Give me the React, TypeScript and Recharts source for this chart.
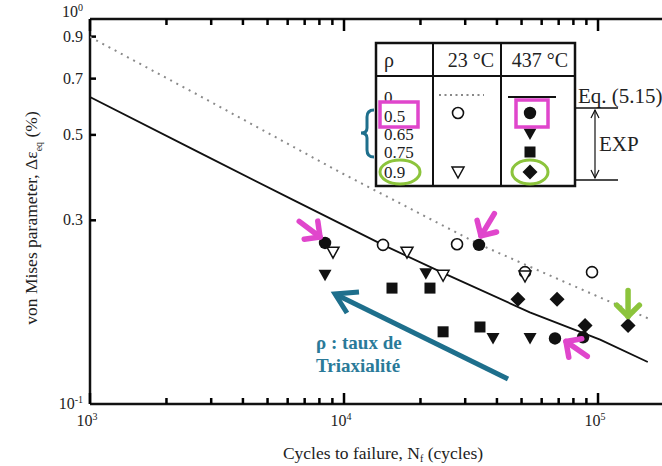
import React from "react";
import { ReferenceDot, Scatter, ScatterChart, XAxis, YAxis } from "recharts";

// cycles to failure (N) vs von Mises strain range (%)
const eqDotted23 = [
  { n: 1000, v: 0.898 },
  { n: 2710, v: 0.631 },
  { n: 9640, v: 0.4 },
  { n: 33990, v: 0.26 },
  { n: 70850, v: 0.21 },
  { n: 157000, v: 0.167 },
];
const eqSolid437 = [
  { n: 1000, v: 0.627 },
  { n: 2710, v: 0.449 },
  { n: 6300, v: 0.339 },
  { n: 14240, v: 0.259 },
  { n: 24500, v: 0.219 },
  { n: 53900, v: 0.173 },
  { n: 101900, v: 0.147 },
  { n: 157000, v: 0.1286 },
];
const open05 = [
  { n: 14240, v: 0.259 },
  { n: 27860, v: 0.26 },
  { n: 51590, v: 0.22 },
  { n: 94700, v: 0.22 },
];
const open09 = [
  { n: 9050, v: 0.248 },
  { n: 17700, v: 0.248 },
  { n: 24550, v: 0.216 },
  { n: 51590, v: 0.215 },
];
const filled05 = [
  { n: 8420, v: 0.262 },
  { n: 33990, v: 0.259 },
  { n: 67700, v: 0.148 },
  { n: 87300, v: 0.149 },
];
const filled065 = [
  { n: 8420, v: 0.216 },
  { n: 21000, v: 0.218 },
  { n: 38600, v: 0.148 },
  { n: 54000, v: 0.148 },
];
const filled075 = [
  { n: 15450, v: 0.2 },
  { n: 21800, v: 0.2 },
  { n: 24550, v: 0.154 },
  { n: 34300, v: 0.1585 },
];
const filled09 = [
  { n: 48400, v: 0.187 },
  { n: 69000, v: 0.187 },
  { n: 88900, v: 0.16 },
  { n: 131300, v: 0.16 },
];

const xTicks = [
  1000, 2000, 3000, 4000, 5000, 6000, 7000, 8000, 9000,
  10000, 20000, 30000, 40000, 50000, 60000, 70000, 80000, 90000, 100000,
];
const xMajor: Record<number, string> = { 1000: "3", 10000: "4", 100000: "5" };
const yTicks = [0.1, 0.3, 0.5, 0.7, 0.9, 1];
const yInnerTicks = [0.3, 0.5, 0.7, 0.9];
const rhoRows = ["0", "0.5", "0.65", "0.75", "0.9"];

const INK = "#111";
const PINK = "#e046cc";
const GREEN = "#8cc43c";
const TEAL = "#1e6f8c";
const SERIF = "'Liberation Serif', 'Times New Roman', 'DejaVu Serif', serif";

const OpenCircle = ({ cx, cy }: any) => (
  <circle cx={cx} cy={cy} r={5.5} fill="#fff" stroke={INK} strokeWidth={1.6} />
);
const FilledCircle = ({ cx, cy }: any) => <circle cx={cx} cy={cy} r={6.2} fill={INK} />;
const OpenTri = ({ cx, cy }: any) => (
  <polygon
    points={`${cx - 6},${cy - 5} ${cx + 6},${cy - 5} ${cx},${cy + 6}`}
    fill="#fff"
    stroke={INK}
    strokeWidth={1.5}
  />
);
const FilledTri = ({ cx, cy }: any) => (
  <polygon points={`${cx - 6.5},${cy - 5.5} ${cx + 6.5},${cy - 5.5} ${cx},${cy + 6}`} fill={INK} />
);
const FilledSquare = ({ cx, cy }: any) => (
  <rect x={cx - 5.5} y={cy - 5.5} width={11} height={11} fill={INK} />
);
const FilledDiamond = ({ cx, cy }: any) => (
  <polygon points={`${cx},${cy - 7.5} ${cx + 7.5},${cy} ${cx},${cy + 7.5} ${cx - 7.5},${cy}`} fill={INK} />
);
const NoDot = () => <g />;

// inward tick mark, anchored on an axis value
const tickMark = (dx: number, dy: number) => (p: any) => (
  <g stroke="#000" strokeWidth={2.5} fill="none">
    <polyline points={`${p.cx},${p.cy} ${p.cx + dx},${p.cy + dy}`} />
  </g>
);

const BottomTick = ({ x, y, payload }: any) => {
  const exp = xMajor[payload.value];
  if (!exp) return <g />;
  return (
    <text x={x - 3} y={y + 22} textAnchor="middle" fontSize={16} fill="#222" fontFamily={SERIF}>
      10
      <tspan dy={-6} fontSize={10}>
        {exp}
      </tspan>
    </text>
  );
};

const LeftTick = ({ x, y, payload }: any) => {
  const v = payload.value;
  const edge = v === 1 || v === 0.1;
  return (
    <text x={x - 7} y={y + (v === 1 ? -2 : 5)} textAnchor="end" fontSize={16} fill="#222" fontFamily={SERIF}>
      {edge ? (
        <>
          10
          <tspan dy={-6} fontSize={10}>
            {v === 1 ? "0" : "-1"}
          </tspan>
        </>
      ) : (
        v.toFixed(1)
      )}
    </text>
  );
};

// arrow marker drawn from a tip, pointing along (dx, dy)
const arrowShape = (color: string, ox: number, oy: number, dx: number, dy: number) => (p: any) => {
  const len = Math.hypot(dx, dy);
  const ux = dx / len;
  const uy = dy / len;
  const tx = p.cx + ox;
  const ty = p.cy + oy;
  const shaft = 26;
  const wing = 16;
  const rot = (a: number) => {
    const c = Math.cos(a);
    const s = Math.sin(a);
    return [-(ux * c - uy * s), -(ux * s + uy * c)];
  };
  const [w1x, w1y] = rot(Math.PI / 4);
  const [w2x, w2y] = rot(-Math.PI / 4);
  return (
    <g stroke={color} strokeWidth={5.5} fill="none" strokeLinecap="round" strokeLinejoin="round">
      <line x1={tx} y1={ty} x2={tx - ux * shaft} y2={ty - uy * shaft} />
      <polyline points={`${tx + w1x * wing},${ty + w1y * wing} ${tx},${ty} ${tx + w2x * wing},${ty + w2y * wing}`} />
    </g>
  );
};

const LegendTable = () => {
  const left = 376;
  const top = 43;
  const right = 575;
  const bottom = 186;
  const rowY = [97, 116, 134, 152, 172];
  return (
    <svg width={662} height={466} style={{ position: "absolute", left: 0, top: 0, pointerEvents: "none" }}>
      <rect x={left} y={top} width={right - left} height={bottom - top} fill="#fff" stroke={INK} strokeWidth={2.5} />
      <line x1={left} x2={right} y1={76} y2={76} stroke={INK} strokeWidth={2} />
      <line x1={433} x2={433} y1={top} y2={bottom} stroke={INK} strokeWidth={2} />
      <line x1={501} x2={501} y1={top} y2={bottom} stroke={INK} strokeWidth={2} />
      <g fontFamily={SERIF} fontSize={20} fill="#222">
        <text x={384} y={67}>ρ</text>
        <text x={494} y={67} textAnchor="end">23 °C</text>
        <text x={568} y={67} textAnchor="end">437 °C</text>
      </g>
      <g fontFamily={SERIF} fontSize={17} fill="#222">
        {rhoRows.map((r, i) => (
          <text key={r} x={384} y={rowY[i] + 6}>
            {r}
          </text>
        ))}
      </g>
      <line x1={439} x2={484} y1={95} y2={95} stroke="#888" strokeWidth={1.8} strokeDasharray="2 3.5" />
      <OpenCircle cx={458} cy={113} />
      <OpenTri cx={458} cy={172} />
      <line x1={508} x2={556} y1={97} y2={97} stroke={INK} strokeWidth={1.8} />
      <FilledCircle cx={530} cy={113} />
      <FilledTri cx={530} cy={134} />
      <FilledSquare cx={530} cy={152} />
      <FilledDiamond cx={530} cy={172} />
      {/* highlight marks */}
      <rect x={380} y={102} width={38} height={25} fill="none" stroke={PINK} strokeWidth={3.5} />
      <rect x={516} y={100} width={32} height={27} fill="none" stroke={PINK} strokeWidth={3.5} />
      <ellipse cx={400} cy={172} rx={20} ry={12} fill="none" stroke={GREEN} strokeWidth={3} />
      <ellipse cx={530} cy={172} rx={18} ry={12} fill="none" stroke={GREEN} strokeWidth={3} />
      <path d="M374,110 Q367,110 367,117 L367,128 Q367,133 361,133 Q367,133 367,138 L367,150 Q367,157 374,157" fill="none" stroke={TEAL} strokeWidth={3} />
      {/* Eq. / EXP bracket */}
      <text x={578} y={103} fontFamily={SERIF} fontSize={21} fill="#222">
        Eq. (5.15)
      </text>
      <line x1={575} x2={618} y1={108} y2={108} stroke={INK} strokeWidth={1.5} />
      <line x1={575} x2={618} y1={180} y2={180} stroke={INK} strokeWidth={1.5} />
      <line x1={595} x2={595} y1={110} y2={178} stroke={INK} strokeWidth={1.2} />
      <polyline points="591,118 595,110 599,118" fill="none" stroke={INK} strokeWidth={1.2} />
      <polyline points="591,170 595,178 599,170" fill="none" stroke={INK} strokeWidth={1.2} />
      <text x={599} y={151} fontFamily={SERIF} fontSize={21} fill="#222">
        EXP
      </text>
      {/* triaxiality note */}
      <g stroke={TEAL} strokeWidth={5} fill="none" strokeLinejoin="miter">
        <line x1={508} y1={379} x2={337} y2={295} />
        <polyline points="359,292 335,294 347,313" />
      </g>
      <g fontFamily={SERIF} fontSize={19} fontWeight="bold" fill="#2a7a99">
        <text x={316} y={349}>ρ : taux de</text>
        <text x={316} y={372}>Triaxialité</text>
      </g>
    </svg>
  );
};

export default function App() {
  return (
    <div style={{ position: "absolute", left: 0, top: 0, width: 662, height: 466, background: "#fff" }}>
      <ScatterChart width={662} height={466} margin={{ top: 4, right: 0, bottom: 0, left: 0 }}>
        <XAxis
          xAxisId="top"
          orientation="top"
          dataKey="n"
          type="number"
          scale="log"
          domain={[1000, 178600]}
          allowDataOverflow
          ticks={xTicks}
          interval={0}
          height={15}
          tickLine={false}
          tick={false}
          axisLine={{ stroke: INK, strokeWidth: 2.5 }}
        />
        <XAxis
          dataKey="n"
          type="number"
          scale="log"
          domain={[1000, 178600]}
          allowDataOverflow
          ticks={xTicks}
          interval={0}
          height={62}
          tickSize={0}
          tickMargin={0}
          tickLine={false}
          tick={<BottomTick />}
          axisLine={{ stroke: INK, strokeWidth: 2.5 }}
        />
        <YAxis
          dataKey="v"
          type="number"
          scale="log"
          domain={[0.1, 1]}
          allowDataOverflow
          ticks={yTicks}
          interval={0}
          width={90}
          tickSize={0}
          tickMargin={0}
          tickLine={false}
          tick={<LeftTick />}
          axisLine={{ stroke: INK, strokeWidth: 2.5 }}
        />
        {xTicks.map((t) => (
          <ReferenceDot
            key={`b${t}`}
            x={t}
            y={0.1}
            r={0}
            ifOverflow="visible"
            shape={tickMark(0, xMajor[t] ? -11 : -6)}
          />
        ))}
        {xTicks.map((t) => (
          <ReferenceDot
            key={`t${t}`}
            x={t}
            y={1}
            r={0}
            ifOverflow="visible"
            shape={tickMark(0, xMajor[t] ? 12 : 6)}
          />
        ))}
        {yInnerTicks.map((v) => (
          <ReferenceDot key={`l${v}`} x={1000} y={v} r={0} ifOverflow="visible" shape={tickMark(6, 0)} />
        ))}
        <Scatter
          data={eqDotted23}
          line={{ stroke: "#8a8a8a", strokeWidth: 2, strokeDasharray: "2 5" }}
          shape={NoDot}
          isAnimationActive={false}
        />
        <Scatter
          data={eqSolid437}
          line={{ stroke: INK, strokeWidth: 1.8 }}
          shape={NoDot}
          isAnimationActive={false}
        />
        <Scatter data={open05} shape={OpenCircle} isAnimationActive={false} />
        <Scatter data={open09} shape={OpenTri} isAnimationActive={false} />
        <Scatter data={filled075} shape={FilledSquare} isAnimationActive={false} />
        <Scatter data={filled09} shape={FilledDiamond} isAnimationActive={false} />
        <Scatter data={filled065} shape={FilledTri} isAnimationActive={false} />
        <Scatter data={filled05} shape={FilledCircle} isAnimationActive={false} />
        <ReferenceDot x={8420} y={0.262} r={0} shape={arrowShape(PINK, -5, -6, 1, 0.75)} />
        <ReferenceDot x={33990} y={0.259} r={0} shape={arrowShape(PINK, 2, -9, -0.6, 1)} />
        <ReferenceDot x={67700} y={0.148} r={0} shape={arrowShape(PINK, 11, 3, -1, -0.7)} />
        <ReferenceDot x={131300} y={0.16} r={0} shape={arrowShape(GREEN, 0, -9, 0, 1)} />
      </ScatterChart>
      <LegendTable />
      <svg width={662} height={466} style={{ position: "absolute", left: 0, top: 0, pointerEvents: "none" }}>
        <text
          transform="translate(37,218) rotate(-90)"
          textAnchor="middle"
          fontFamily={SERIF}
          fontSize={17.5}
          fill="#222"
        >
          von Mises parameter, Δε
          <tspan dy={5} fontSize={10}>
            eq
          </tspan>
          <tspan dy={-5}> (%)</tspan>
        </text>
        <text x={383} y={459} textAnchor="middle" fontFamily={SERIF} fontSize={17.5} fill="#222">
          Cycles to failure, N
          <tspan dy={3} fontSize={10}>
            f
          </tspan>
          <tspan dy={-3}> (cycles)</tspan>
        </text>
      </svg>
    </div>
  );
}
